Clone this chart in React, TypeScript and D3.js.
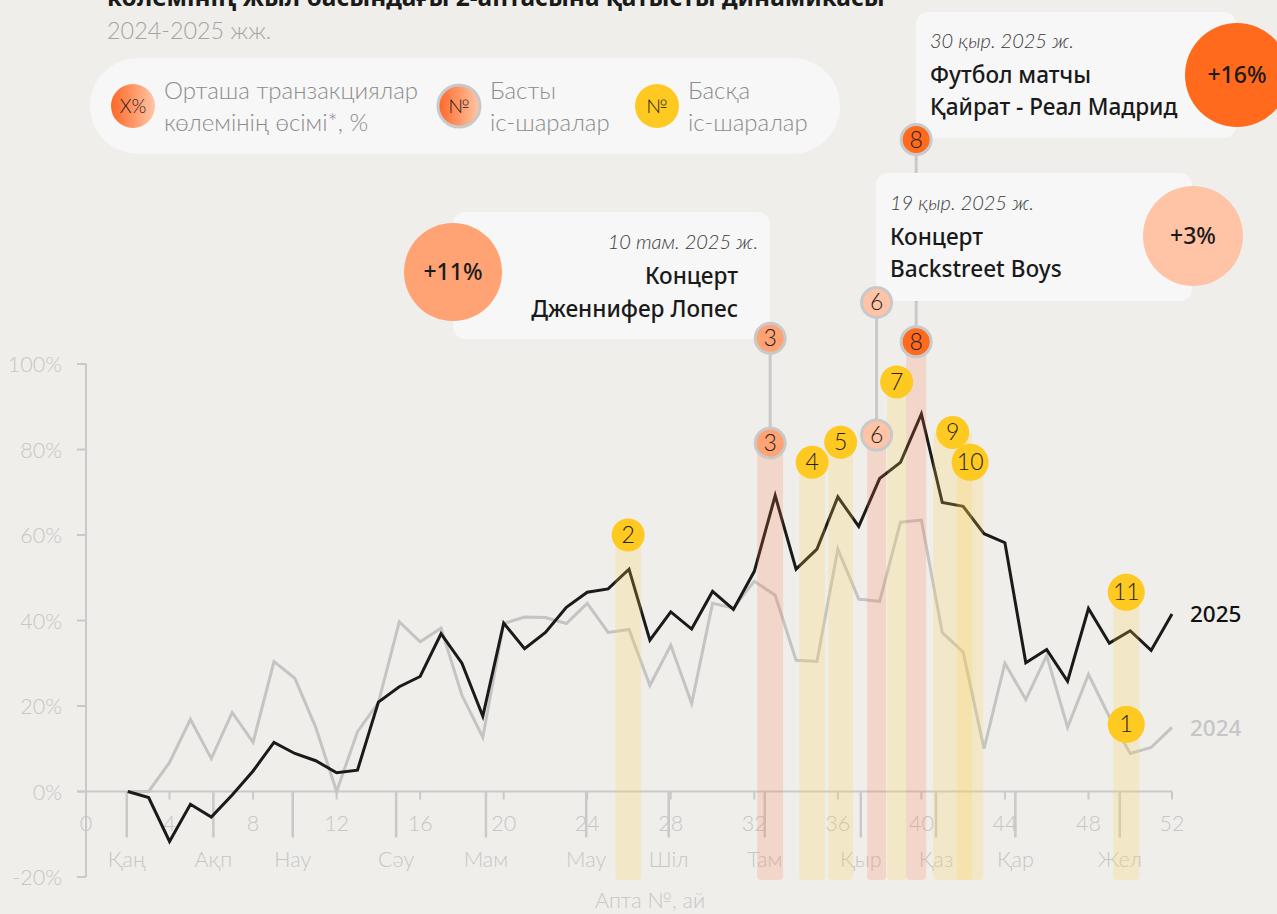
import React from 'react';
import * as d3 from 'd3';

// ---------- data ----------
const WEEKS = [2, 3, 4, 5, 6, 7, 8, 9, 10, 11, 12, 13, 14, 15, 16, 17, 18, 19, 20, 21, 22, 23, 24, 25, 26, 27,
  28, 29, 30, 31, 32, 33, 34, 35, 36, 37, 38, 39, 40, 41, 42, 43, 44, 45, 46, 47, 48, 49, 50, 51, 52];
const SERIES_2025 = [0, -1.4, -11.7, -3, -6, -0.8, 4.8, 11.5, 8.9, 7.2, 4.4, 5, 20.9, 24.5, 26.9, 36.9, 30, 17.6,
  39.4, 33.4, 37.2, 43.1, 46.6, 47.4, 52, 35.4, 42, 38, 46.8, 42.6, 51.5, 69.2, 52, 56.7, 68.9, 62, 73.2, 77, 88.3,
  67.6, 66.7, 60.3, 58.2, 30.1, 33.2, 25.8, 42.8, 34.7, 37.6, 33, 41.5];
const SERIES_2024 = [0, 0, 6.8, 16.9, 7.7, 18.5, 11.5, 30.4, 26.5, 15, 0, 14, 20.8, 39.7, 35, 38.2, 22.5, 12.7,
  39.3, 40.8, 40.7, 39.3, 44, 37.2, 37.9, 24.8, 34.2, 20.6, 44, 42.9, 49.2, 45.9, 30.7, 30.4, 56.7, 45, 44.5, 63,
  63.5, 37.2, 32.6, 10, 30, 21.5, 31.8, 15, 27.4, 17.5, 8.9, 10.3, 15];

const Y_TICKS = [-20, 0, 20, 40, 60, 80, 100];
const WEEK_TICKS = [0, 4, 8, 12, 16, 20, 24, 28, 32, 36, 40, 44, 48, 52];
const MONTH_LABELS = ['Қаң', 'Ақп', 'Нау', 'Сәу', 'Мам', 'Мау', 'Шіл', 'Там', 'Қыр', 'Қаз', 'Қар', 'Жел'];
const MONTH_TICK_WEEKS = [1.95, 6.1, 9.9, 14.85, 19.15, 23.95, 27.9, 32.5, 37.1, 40.7, 44.5, 49.5];

const EVENT_IDS = [1, 2, 3, 4, 5, 6, 7, 8, 9, 10, 11];
const EVENT_KIND = ['other', 'other', 'main', 'other', 'other', 'main', 'other', 'main', 'other', 'other', 'other'];
const EVENT_START_WEEK = [49.19, 25.34, 32.14, 34.15, 35.54, 37.4, 38.36, 39.27, 40.57, 41.71, 49.19];
const EVENT_END_WEEK = [50.43, 26.58, 33.38, 35.39, 36.73, 38.31, 39.27, 40.23, 42.43, 42.96, 50.43];
const EVENT_LEVEL = [15.7, 60, 81.5, 77, 81.7, 83.4, 95.8, 105.2, 84, 77, 46.6];
const EVENT_HAS_BAND = [false, true, true, true, true, true, true, true, true, true, true];

const MAIN_IDS = [3, 6, 8];
const MAIN_PIN_LEVEL = [106, 114.4, 152.5];
const MAIN_DATES = ['10 там. 2025 ж.', '19 қыр. 2025 ж.', '30 қыр. 2025 ж.'];
const MAIN_TITLES = [['Концерт', 'Дженнифер Лопес'], ['Концерт', 'Backstreet Boys'], ['Футбол матчы', 'Қайрат - Реал Мадрид']];
const MAIN_GROWTH = [11, 3, 16];

const TITLE_LINE = 'көлемінің жыл басындағы 2-аптасына қатысты динамикасы';
const SUBTITLE = '2024-2025 жж.';
const LEGEND_LABELS = [['Орташа транзакциялар', 'көлемінің өсімі*, %'], ['Басты', 'іс-шаралар'], ['Басқа', 'іс-шаралар']];
const X_TITLE = 'Апта №, ай';

// ---------- style ----------
const W = 1277;
const H = 914;
const BG = '#efeeea';
const PANEL = '#f7f7f7';
const AXIS = '#c9c9c9';
const YELLOW = '#fec920';
const FONT = "'Noto Sans', 'Open Sans', sans-serif";
const LIGHT = "Lato, 'Noto Sans', sans-serif";
const BIG_BUBBLES = new Set([1, 10, 11]);

const growthColor = d3.scaleLinear<string>().domain([3, 11, 16]).range(['#ffc3a6', '#ffa375', '#ff6a1c']);

export default function App() {
  const x = d3.scaleLinear().domain([0, 52]).range([86, 1172]);
  const y = d3.scaleLinear().domain([-20, 100]).range([877, 364]);
  const y0 = y(0);

  const line = d3.line<number>().x((_, i) => x(WEEKS[i])).y((d) => y(d));

  const events = EVENT_IDS.map((id, i) => ({
    id,
    kind: EVENT_KIND[i],
    x0: x(EVENT_START_WEEK[i]),
    x1: x(EVENT_END_WEEK[i]),
    cx: (x(EVENT_START_WEEK[i]) + x(EVENT_END_WEEK[i])) / 2,
    cy: y(EVENT_LEVEL[i]),
    band: EVENT_HAS_BAND[i],
  }));
  const byId = (id: number) => events.find((e) => e.id === id)!;

  const bandBottom = y(-20) + 3;

  const mainInfo = MAIN_IDS.map((id, i) => ({
    id,
    pinY: y(MAIN_PIN_LEVEL[i]),
    date: MAIN_DATES[i],
    lines: MAIN_TITLES[i],
    growth: MAIN_GROWTH[i],
    color: growthColor(MAIN_GROWTH[i]),
  }));

  // annotation box layouts (event 3, 6, 8)
  const boxes: Record<number, any> = {
    3: { x: 453, y: 212, w: 317, h: 127, cx: 453, cy: 272, r: 49, align: 'end', tx: 738, dx: 758, dateY: 249, l1: 284, l2: 317 },
    6: { x: 876, y: 173, w: 316, h: 128, cx: 1193, cy: 236, r: 50, align: 'start', tx: 890, dx: 890, dateY: 210, l1: 245, l2: 277 },
    8: { x: 916, y: 12, w: 320, h: 126, cx: 1237, cy: 75, r: 52, align: 'start', tx: 930, dx: 930, dateY: 48, l1: 83, l2: 115 },
  };

  const bubbleR = (id: number, kind: string) => (kind === 'main' ? 15 : BIG_BUBBLES.has(id) ? 18.5 : 16.5);
  const bubbleFill = (id: number, kind: string) => {
    if (kind !== 'main') return YELLOW;
    const m = mainInfo.find((d) => d.id === id)!;
    return m.color;
  };

  const renderBubble = (id: number, kind: string, cx: number, cy: number, key: string) => (
    <g key={key}>
      <circle cx={cx} cy={cy} r={bubbleR(id, kind)} fill={bubbleFill(id, kind)}
        stroke={kind === 'main' ? AXIS : 'none'} strokeWidth={kind === 'main' ? 3 : 0} />
      <text x={cx} y={cy + 8} textAnchor="middle" fontFamily={LIGHT} fontSize={23} fontWeight={300} fill="#222">{id}</text>
    </g>
  );

  return (
    <div style={{ position: 'fixed', left: 0, top: 0, width: W, height: H, background: BG }}>
      <svg width={W} height={H} style={{ display: 'block', fontFamily: FONT }}>
        <defs>
          <linearGradient id="gradA" x1="0" x2="1" y1="0" y2="0">
            <stop offset="0" stopColor="#ff6726" />
            <stop offset="1" stopColor="#ffc7a8" />
          </linearGradient>
        </defs>
        <rect width={W} height={H} fill={BG} />

        {/* title */}
        <text x={107} y={6} fontSize={24.5} fontWeight={700} fill="#1a1a1a">{TITLE_LINE}</text>
        <text x={107} y={39} fontFamily={LIGHT} fontSize={23.4} fontWeight={300} fill="#a5a5a5">{SUBTITLE}</text>

        {/* legend */}
        <rect x={90} y={58} width={750} height={96} rx={48} fill={PANEL} />
        <circle cx={133} cy={106} r={22} fill="url(#gradA)" />
        <text x={133} y={113} textAnchor="middle" fontFamily={LIGHT} fontSize={19} fontWeight={300} fill="#222">X%</text>
        <circle cx={459} cy={106} r={21} fill="url(#gradA)" stroke={AXIS} strokeWidth={3} />
        <text x={459} y={113} textAnchor="middle" fontFamily={LIGHT} fontSize={19} fontWeight={300} fill="#222">№</text>
        <circle cx={657} cy={106} r={22} fill={YELLOW} />
        <text x={657} y={113} textAnchor="middle" fontFamily={LIGHT} fontSize={19} fontWeight={300} fill="#222">№</text>
        {[164, 490, 688].map((lx, i) => (
          <g key={'lg' + i} fontFamily={LIGHT} fontSize={24} fontWeight={300} fill="#8c8c8c">
            <text x={lx} y={99}>{LEGEND_LABELS[i][0]}</text>
            <text x={lx} y={131}>{LEGEND_LABELS[i][1]}</text>
          </g>
        ))}

        {/* axes */}
        <g stroke={AXIS} strokeWidth={2} fill="none">
          <line x1={x(0)} x2={x(0)} y1={y(100)} y2={y(-20)} />
          {Y_TICKS.map((t) => (
            <line key={'yt' + t} x1={x(0) - 9} x2={x(0)} y1={y(t)} y2={y(t)} />
          ))}
          <line x1={x(0) - 9} x2={x(52)} y1={y0} y2={y0} />
          {WEEK_TICKS.filter((w) => w > 0).map((w) => (
            <line key={'wt' + w} x1={x(w)} x2={x(w)} y1={y0} y2={y0 + 8} />
          ))}
          {MONTH_TICK_WEEKS.map((w, i) => (
            <line key={'mt' + i} x1={x(w)} x2={x(w)} y1={y0} y2={y0 + 46} strokeWidth={2.5} />
          ))}
        </g>
        <g fontFamily={LIGHT} fontSize={21.5} fontWeight={300} fill="#c6c6c6">
          {Y_TICKS.map((t) => (
            <text key={'yl' + t} x={62} y={y(t) + 8} textAnchor="end">{t + '%'}</text>
          ))}
          {WEEK_TICKS.map((w) => (
            <text key={'wl' + w} x={x(w)} y={y0 + 39} textAnchor="middle">{w}</text>
          ))}
          {MONTH_TICK_WEEKS.map((w, i) => (
            <text key={'ml' + i} x={x(w)} y={y0 + 75} textAnchor="middle">{MONTH_LABELS[i]}</text>
          ))}
          <text x={650} y={908} textAnchor="middle">{X_TITLE}</text>
        </g>

        {/* lines */}
        <path d={line(SERIES_2024) || ''} fill="none" stroke="#c4c4c4" strokeWidth={3} strokeLinejoin="miter" />
        <path d={line(SERIES_2025) || ''} fill="none" stroke="#1a1a1a" strokeWidth={3} strokeLinejoin="miter" />
        <text x={1190} y={y(SERIES_2025[SERIES_2025.length - 1]) + 8} fontSize={22.5} fontWeight={500} fill="#111">2025</text>
        <text x={1190} y={y(SERIES_2024[SERIES_2024.length - 1]) + 9} fontSize={22.5} fontWeight={500} fill="#c6c6c6">2024</text>

        {/* bands */}
        {events.filter((e) => e.band).map((e) => (
          <rect key={'b' + e.id} x={e.x0} width={e.x1 - e.x0} y={e.cy} height={bandBottom - e.cy} rx={4}
            fill={e.kind === 'main' ? '#ff7846' : '#ffd34d'} fillOpacity={e.kind === 'main' ? 0.2 : 0.22} />
        ))}

        {/* connectors */}
        {mainInfo.map((m) => {
          const e = byId(m.id);
          return <line key={'c' + m.id} x1={e.cx} x2={e.cx} y1={m.pinY} y2={e.cy} stroke={AXIS} strokeWidth={3} />;
        })}

        {/* annotation boxes */}
        {mainInfo.map((m) => {
          const b = boxes[m.id];
          return (
            <g key={'box' + m.id}>
              <rect x={b.x} y={b.y} width={b.w} height={b.h} rx={12} fill={PANEL} />
              <circle cx={b.cx} cy={b.cy} r={b.r} fill={m.color} />
              <text x={b.cx} y={b.cy + 8} textAnchor="middle" fontSize={23} fontWeight={500} fill="#1a1a1a">{'+' + m.growth + '%'}</text>
              <text x={b.dx} y={b.dateY} textAnchor={b.align} fontFamily={LIGHT} fontSize={20} fontStyle="italic" fontWeight={300} fill="#3a3a3a">{m.date}</text>
              <text x={b.tx} y={b.l1} textAnchor={b.align} fontSize={22.6} fontWeight={500} fill="#1a1a1a">{m.lines[0]}</text>
              <text x={b.tx} y={b.l2} textAnchor={b.align} fontSize={22.6} fontWeight={500} fill="#1a1a1a">{m.lines[1]}</text>
            </g>
          );
        })}

        {/* bubbles */}
        {mainInfo.map((m) => {
          const e = byId(m.id);
          return renderBubble(m.id, 'main', e.cx, m.pinY, 'pin' + m.id);
        })}
        {events.map((e) => renderBubble(e.id, e.kind, e.cx, e.cy, 'bb' + e.id))}
      </svg>
    </div>
  );
}
